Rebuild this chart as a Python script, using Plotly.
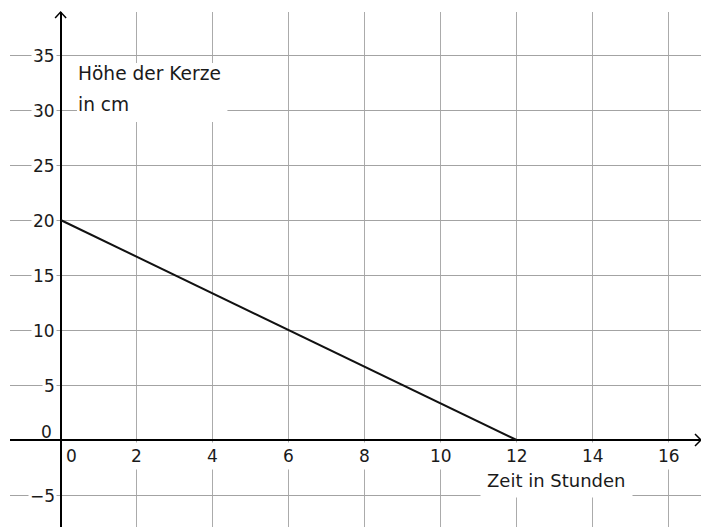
import plotly.graph_objects as go

# ---- data ----
time_h = [0, 12]
height_cm = [20, 0]
x_ticks = [0, 2, 4, 6, 8, 10, 12, 14, 16]
y_ticks = [-5, 0, 5, 10, 15, 20, 25, 30, 35]
x_title = "Zeit in Stunden"
y_title_lines = ["Höhe der Kerze", "in cm"]

# ---- layout geometry ----
W, H = 701, 527
ML, MT = 10, 12
PW, PH = W - ML, H - MT
X_RANGE = [-1.332, 16.853]
Y_RANGE = [-7.909, 38.91]
FONT = "DejaVu Sans"
TXT = "#1a1a1a"


def xpaper(v):
    return (v - X_RANGE[0]) / (X_RANGE[1] - X_RANGE[0])


def ypaper(v):
    return (v - Y_RANGE[0]) / (Y_RANGE[1] - Y_RANGE[0])


fig = go.Figure()
fig.add_trace(go.Scatter(
    x=time_h, y=height_cm, mode="lines",
    line=dict(color="#111111", width=2),
    hoverinfo="skip", showlegend=False,
))

annotations = []
for v in x_ticks:
    annotations.append(dict(
        x=v, y=0, xref="x", yref="y", text=str(v), showarrow=False,
        xanchor="center", yanchor="middle", yshift=-16,
        xshift=11 if v == 0 else 0,
        bgcolor="white", borderpad=3,
        font=dict(family=FONT, size=17, color=TXT),
    ))
for v in y_ticks:
    if v == 0:
        annotations.append(dict(
            x=0, y=0, xref="x", yref="y", text="0", showarrow=False,
            xanchor="right", yanchor="middle", xshift=-7, yshift=8,
            font=dict(family=FONT, size=17, color=TXT),
        ))
    else:
        annotations.append(dict(
            x=0, y=v, xref="x", yref="y",
            text=("−" + str(-v)) if v < 0 else str(v), showarrow=False,
            xanchor="right", yanchor="middle", xshift=-4, yshift=-1,
            bgcolor="white", borderpad=1,
            font=dict(family=FONT, size=17, color=TXT),
        ))

# axis titles
annotations.append(dict(
    x=13.04, y=-3.68, xref="x", yref="y", text=x_title, showarrow=False,
    xanchor="center", yanchor="middle", bgcolor="white", borderpad=6,
    font=dict(family=FONT, size=18, color=TXT),
))
for txt, yv in zip(y_title_lines, [33.32, 30.5]):
    annotations.append(dict(
        x=0.44, y=yv, xref="x", yref="y", text=txt, showarrow=False,
        xanchor="left", yanchor="middle", borderpad=0,
        font=dict(family=FONT, size=18.6, color=TXT),
    ))

shapes = [
    # white box behind the y-axis title
    dict(type="rect", xref="x", yref="y", x0=0.43, x1=4.39, y0=28.9, y1=34.27,
         fillcolor="white", line=dict(width=0), layer="between"),
]
# arrow heads
ax, ay = 6.0 / PW, 6.0 / PH
x0p = xpaper(0)
y0p = ypaper(0)
shapes.append(dict(
    type="path", xref="paper", yref="paper",
    path=f"M {x0p - 5.5 / PW} {1 - ay} L {x0p} 1 L {x0p + 5.5 / PW} {1 - ay}",
    line=dict(color="black", width=1.5),
))
shapes.append(dict(
    type="path", xref="paper", yref="paper",
    path=f"M {1 - ax} {y0p + ay} L 1 {y0p} L {1 - ax} {y0p - ay}",
    line=dict(color="black", width=1.5),
))

fig.update_layout(
    width=W, height=H,
    margin=dict(l=ML, r=0, t=MT, b=0, pad=0),
    paper_bgcolor="white", plot_bgcolor="white",
    showlegend=False, hovermode=False,
    xaxis=dict(range=X_RANGE, tick0=0, dtick=2, showgrid=True,
               gridcolor="#ababab", gridwidth=1.3,
               zeroline=True, zerolinecolor="black", zerolinewidth=1.6,
               showticklabels=False, ticks="", showline=False, fixedrange=True),
    yaxis=dict(range=Y_RANGE, tick0=0, dtick=5, showgrid=True,
               gridcolor="#a3a3a3", gridwidth=1,
               zeroline=True, zerolinecolor="black", zerolinewidth=1.6,
               showticklabels=False, ticks="", showline=False, fixedrange=True),
    annotations=annotations,
    shapes=shapes,
)

fig.write_html(
    "out.html",
    config={"displayModeBar": False},
    post_script="document.body.style.margin='0';"
                "document.documentElement.style.overflow='hidden';"
                "document.body.style.overflow='hidden';",
)
